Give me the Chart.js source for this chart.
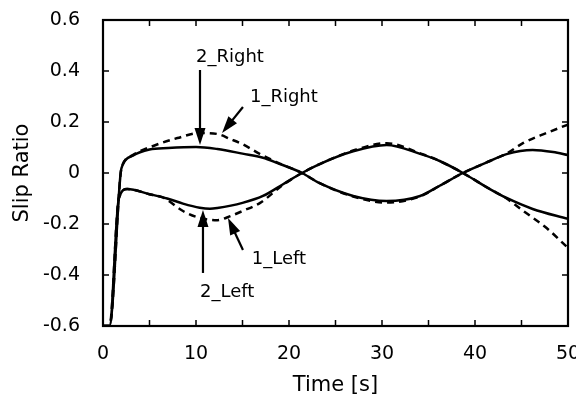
<!DOCTYPE html>
<html>
<head>
<meta charset="utf-8">
<script src="https://cdn.jsdelivr.net/npm/chart.js@4"></script>
<style>
  body { margin: 0; background: #fff; }
</style>
</head>
<body>
<canvas id="myChart" width="576" height="398"></canvas>
<script>
// values (time in s, slip ratio)
const time2Right = [0, 0.7, 1.9, 2.15, 3.2, 5, 7, 10, 12.3, 15, 17.2, 18.7, 21.4, 23.3, 26.9, 30.5, 34.1, 36.2, 38.7, 41.6, 43.4, 46.2, 48.4, 50];
const slip2Right = [-0.6, -0.6, 0.0, 0.035, 0.068, 0.092, 0.098, 0.102, 0.094, 0.076, 0.06, 0.04, 0, -0.04, -0.09, -0.11, -0.09, -0.05, 0, 0.047, 0.074, 0.09, 0.082, 0.07];

const time1Right = [0, 0.7, 1.9, 2.15, 3.2, 5.4, 8, 10.4, 12.3, 13.7, 15, 16.9, 18.7, 21.4, 23.3, 26.9, 30.5, 34.1, 36.2, 38.7, 41.6, 43.4, 45.2, 47.7, 50];
const slip1Right = [-0.6, -0.6, 0.0, 0.035, 0.07, 0.106, 0.137, 0.157, 0.153, 0.133, 0.113, 0.074, 0.042, 0, -0.04, -0.092, -0.116, -0.092, -0.05, 0, 0.047, 0.076, 0.118, 0.157, 0.19];

const time2Left = [0, 0.7, 1.7, 2.6, 5, 6.9, 8.6, 10.4, 11.5, 12.3, 15, 17.2, 19.4, 21.4, 23.3, 26.9, 30.5, 34.1, 36.2, 38.7, 41.6, 43.4, 46.2, 50];
const slip2Left = [-0.6, -0.6, -0.1, -0.063, -0.083, -0.1, -0.12, -0.136, -0.14, -0.137, -0.117, -0.09, -0.043, 0, 0.035, 0.085, 0.11, 0.075, 0.047, 0, -0.063, -0.098, -0.141, -0.18];

const time1Left = [0, 0.7, 1.7, 2.6, 5, 6.5, 8.6, 10.4, 12.3, 13.7, 15, 16.9, 19.4, 21.4, 23.3, 26.9, 30.5, 34.1, 36.2, 38.7, 41.6, 43.4, 45.2, 47.7, 50];
const slip1Left = [-0.6, -0.6, -0.1, -0.063, -0.083, -0.097, -0.149, -0.176, -0.185, -0.169, -0.149, -0.117, -0.045, 0, 0.035, 0.088, 0.117, 0.077, 0.047, 0, -0.063, -0.1, -0.149, -0.216, -0.294];

const xTickLabels = [0, 10, 20, 30, 40, 50];
const yTickLabels = [-0.6, -0.4, -0.2, 0, 0.2, 0.4, 0.6];

// annotation texts and arrows (data units)
const notes = [
  { text: '2_Right', at: [10.0, 0.455], from: [10.43, 0.404], to: [10.43, 0.11] },
  { text: '1_Right', at: [15.8, 0.298], from: [15.05, 0.259], to: [12.8, 0.157] },
  { text: '1_Left', at: [16.0, -0.337], from: [15.05, -0.302], to: [13.44, -0.176] },
  { text: '2_Left', at: [10.43, -0.467], from: [10.75, -0.392], to: [10.75, -0.145] }
];

const toPoints = (ts, vs) => ts.map((t, i) => ({ x: t, y: vs[i] }));

const FONT = "'DejaVu Sans', sans-serif";

function arrow(ctx, x1, y1, x2, y2) {
  const ang = Math.atan2(y2 - y1, x2 - x1);
  const len = 17, half = 5.5;
  ctx.beginPath();
  ctx.moveTo(x1, y1);
  ctx.lineTo(x2 - Math.cos(ang) * len * 0.8, y2 - Math.sin(ang) * len * 0.8);
  ctx.stroke();
  ctx.beginPath();
  ctx.moveTo(x2, y2);
  ctx.lineTo(x2 - Math.cos(ang) * len - Math.sin(ang) * half, y2 - Math.sin(ang) * len + Math.cos(ang) * half);
  ctx.lineTo(x2 - Math.cos(ang) * len + Math.sin(ang) * half, y2 - Math.sin(ang) * len - Math.cos(ang) * half);
  ctx.closePath();
  ctx.fill();
}

const frameAndNotes = {
  id: 'frameAndNotes',
  afterDatasetsDraw(chart) {
    const { ctx, chartArea: a, scales: { x, y } } = chart;
    ctx.save();
    ctx.strokeStyle = '#000';
    ctx.fillStyle = '#000';
    ctx.lineWidth = 2.2;
    ctx.strokeRect(a.left, a.top, a.right - a.left, a.bottom - a.top);

    // inward tick marks
    ctx.lineWidth = 1.5;
    ctx.beginPath();
    for (let t = x.min; t <= x.max; t += 5) {
      const px = x.getPixelForValue(t);
      ctx.moveTo(px, a.bottom); ctx.lineTo(px, a.bottom - 6);
      ctx.moveTo(px, a.top); ctx.lineTo(px, a.top + 6);
    }
    yTickLabels.forEach(v => {
      const py = y.getPixelForValue(v);
      ctx.moveTo(a.left, py); ctx.lineTo(a.left + 6, py);
      ctx.moveTo(a.right, py); ctx.lineTo(a.right - 6, py);
    });
    ctx.stroke();

    // labels with arrows
    ctx.lineWidth = 2.2;
    ctx.font = '18px ' + FONT;
    ctx.textAlign = 'left';
    ctx.textBaseline = 'middle';
    notes.forEach(n => {
      ctx.fillText(n.text, x.getPixelForValue(n.at[0]), y.getPixelForValue(n.at[1]));
      arrow(ctx,
        x.getPixelForValue(n.from[0]), y.getPixelForValue(n.from[1]),
        x.getPixelForValue(n.to[0]), y.getPixelForValue(n.to[1]));
    });
    ctx.restore();
  }
};

const ctx = document.getElementById('myChart').getContext('2d');
new Chart(ctx, {
  type: 'line',
  data: {
    datasets: [
      { label: '2_Right', data: toPoints(time2Right, slip2Right), borderDash: [] },
      { label: '1_Right', data: toPoints(time1Right, slip1Right), borderDash: [7, 5] },
      { label: '2_Left', data: toPoints(time2Left, slip2Left), borderDash: [] },
      { label: '1_Left', data: toPoints(time1Left, slip1Left), borderDash: [7, 5] }
    ].map(d => Object.assign(d, {
      borderColor: '#000',
      borderWidth: 2.5,
      pointRadius: 0,
      fill: false,
      cubicInterpolationMode: 'monotone'
    }))
  },
  options: {
    responsive: false,
    animation: false,
    layout: { padding: { left: 0, right: 8, top: 20, bottom: 0 } },
    plugins: { legend: { display: false }, tooltip: { enabled: false } },
    scales: {
      x: {
        type: 'linear',
        min: 0,
        max: 50,
        grid: { display: false },
        border: { display: false },
        afterBuildTicks: s => { s.ticks = xTickLabels.map(v => ({ value: v })); },
        afterFit: s => { s.height = 72; s.paddingLeft = 0; s.paddingRight = 0; },
        ticks: { color: '#000', padding: 9, maxRotation: 0, font: { family: FONT, size: 19 } },
        title: { display: true, text: 'Time [s]', color: '#000', padding: { top: 4, bottom: 0 }, font: { family: FONT, size: 21 } }
      },
      y: {
        min: -0.6,
        max: 0.6,
        grid: { display: false },
        border: { display: false },
        afterBuildTicks: s => { s.ticks = yTickLabels.map(v => ({ value: v })); },
        afterFit: s => { s.width = 103; s.paddingTop = 0; s.paddingBottom = 0; },
        ticks: {
          color: '#000', padding: 15, font: { family: FONT, size: 19 },
          callback: v => (v === 0 ? '0' : v.toFixed(1))
        },
        title: { display: true, text: 'Slip Ratio', color: '#000', padding: { top: 10, bottom: 0 }, font: { family: FONT, size: 21 } }
      }
    }
  },
  plugins: [frameAndNotes]
});
</script>
</body>
</html>
